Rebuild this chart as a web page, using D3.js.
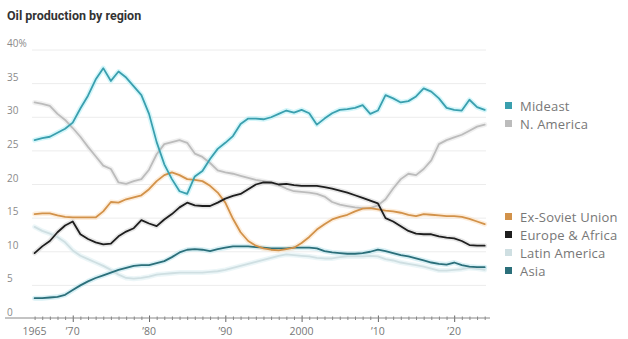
<!DOCTYPE html>
<html>
<head>
<style>
  body { margin: 0; background: #fff; }
  svg { display: block; font-family: 'Open Sans', sans-serif; }
</style>
</head>
<body>
<svg id="chart" width="628" height="339"></svg>
<script src="https://d3js.org/d3.v7.min.js"></script>
<script>
// share of world oil production, %, 1965-2024
var years = d3.range(1965, 2025);

var mideast = [26.6, 26.9, 27.1, 27.7, 28.3, 29.2, 31.3, 33.2, 35.6, 37.3,
  35.4, 36.8, 35.9, 34.6, 33.3, 30.5, 26.3, 23.0, 20.8, 19.0,
  18.6, 21.2, 22.0, 23.8, 25.3, 26.2, 27.2, 29.0, 29.8, 29.8,
  29.7, 30.0, 30.5, 31.0, 30.7, 31.1, 30.6, 28.9, 29.8, 30.6,
  31.1, 31.2, 31.4, 31.8, 30.5, 31.0, 33.3, 32.8, 32.2, 32.4,
  33.1, 34.3, 33.8, 32.8, 31.4, 31.1, 31.0, 32.6, 31.5, 31.1];

var nAmerica = [32.2, 32.0, 31.7, 30.5, 29.6, 28.4, 27.1, 25.6, 24.2, 22.8,
  22.3, 20.3, 20.1, 20.5, 20.8, 22.2, 24.5, 26.0, 26.3, 26.6,
  26.2, 24.6, 24.1, 23.2, 22.1, 21.8, 21.6, 21.3, 21.0, 20.7,
  20.5, 20.2, 19.9, 19.4, 19.0, 18.9, 18.8, 18.6, 18.2, 17.4,
  17.0, 16.8, 16.6, 16.5, 16.5, 16.9, 17.8, 19.4, 20.8, 21.6,
  21.4, 22.3, 23.6, 26.0, 26.6, 27.0, 27.4, 28.0, 28.6, 28.9];

var exSoviet = [15.6, 15.7, 15.7, 15.4, 15.2, 15.1, 15.1, 15.1, 15.1, 16.0,
  17.4, 17.3, 17.8, 18.1, 18.4, 19.3, 20.5, 21.4, 21.8, 21.4,
  20.8, 20.7, 20.5, 19.8, 18.8, 17.3, 14.9, 12.9, 11.6, 10.9,
  10.5, 10.3, 10.2, 10.4, 10.6, 11.3, 12.2, 13.3, 14.1, 14.8,
  15.2, 15.5, 16.0, 16.4, 16.5, 16.3, 16.1, 16.0, 15.8, 15.5,
  15.3, 15.6, 15.5, 15.4, 15.3, 15.3, 15.2, 14.9, 14.5, 14.1];

var europeAfrica = [9.8, 10.8, 11.6, 12.9, 13.9, 14.5, 12.6, 11.9, 11.4, 11.1,
  11.2, 12.3, 13.0, 13.5, 14.7, 14.2, 13.8, 14.8, 15.6, 16.6,
  17.3, 16.9, 16.8, 16.8, 17.3, 17.9, 18.3, 18.6, 19.3, 20.0,
  20.3, 20.3, 20.0, 20.1, 19.9, 19.8, 19.8, 19.8, 19.6, 19.4,
  19.1, 18.8, 18.4, 18.0, 17.6, 17.2, 15.0, 14.5, 13.8, 13.1,
  12.7, 12.6, 12.6, 12.3, 12.1, 12.0, 11.6, 11.0, 10.9, 10.9];

var latinAmerica = [13.7, 13.1, 12.7, 12.2, 11.4, 10.2, 9.4, 8.9, 8.4, 7.9,
  7.3, 6.6, 6.1, 6.0, 6.1, 6.3, 6.6, 6.7, 6.8, 6.9,
  6.9, 6.9, 6.9, 7.0, 7.1, 7.3, 7.6, 7.9, 8.2, 8.5,
  8.8, 9.1, 9.4, 9.6, 9.5, 9.4, 9.3, 9.1, 9.0, 9.0,
  9.2, 9.3, 9.3, 9.3, 9.4, 9.3, 8.9, 8.7, 8.4, 8.2,
  8.0, 7.8, 7.5, 7.2, 7.2, 7.3, 7.4, 7.6, 7.5, 7.3];

var asia = [3.1, 3.1, 3.2, 3.3, 3.6, 4.3, 5.0, 5.6, 6.1, 6.5,
  6.9, 7.3, 7.6, 7.9, 8.0, 8.0, 8.3, 8.6, 9.2, 9.9,
  10.3, 10.4, 10.3, 10.1, 10.4, 10.6, 10.8, 10.8, 10.8, 10.7,
  10.6, 10.5, 10.5, 10.5, 10.6, 10.6, 10.6, 10.5, 10.1, 9.9,
  9.8, 9.7, 9.7, 9.8, 10.0, 10.3, 10.1, 9.8, 9.5, 9.3,
  9.0, 8.7, 8.4, 8.2, 8.1, 8.4, 8.0, 7.8, 7.7, 7.7];

var yTicks = [0, 5, 10, 15, 20, 25, 30, 35, 40];
var xTicks = [1965, 1970, 1980, 1990, 2000, 2010, 2020];
var xTickLabels = ['1965', '\u201970', '\u201980', '\u201990', '2000', '\u201910', '\u201920'];

// drawing order (back to front)
var series = [
  {name: 'Latin America', values: latinAmerica, color: '#cfdfe2', halo: '#dff0f3'},
  {name: 'N. America', values: nAmerica, color: '#bcbcbc', halo: '#e6e6e6'},
  {name: 'Asia', values: asia, color: '#2b6f7a', halo: '#bfe6ee'},
  {name: 'Ex-Soviet Union', values: exSoviet, color: '#d2924a', halo: '#fbe3c6'},
  {name: 'Europe & Africa', values: europeAfrica, color: '#1e1e1e', halo: '#d6d6d6'},
  {name: 'Mideast', values: mideast, color: '#3a9fae', halo: '#b8f0f7'}
];
var legendTop = ['Mideast', 'N. America'];
var legendBottom = ['Ex-Soviet Union', 'Europe & Africa', 'Latin America', 'Asia'];

var svg = d3.select('#chart');
var x = d3.scaleLinear().domain([1965, 2024]).range([34.6, 484.7]);
var y = d3.scaleLinear().domain([0, 40]).range([319, 50]);

// gridlines + y labels
svg.append('g').selectAll('line')
  .data(yTicks.filter(function(d) { return d > 0; }))
  .enter().append('line')
  .attr('x1', 32).attr('x2', 486)
  .attr('y1', function(d) { return y(d); })
  .attr('y2', function(d) { return y(d); })
  .attr('stroke', '#ececec').attr('stroke-width', 1);

svg.append('g').selectAll('text')
  .data(yTicks)
  .enter().append('text')
  .attr('x', 7)
  .attr('y', function(d) { return y(d) - 3; })
  .attr('font-size', 10)
  .attr('fill', '#8a8a8a')
  .text(function(d) { return d === 40 ? '40%' : d; });

// x axis
var xAxis = d3.axisBottom(x)
  .tickValues(d3.range(1965, 2025))
  .tickSize(3)
  .tickFormat('');
var axisG = svg.append('g')
  .attr('transform', 'translate(0,' + 318 + ')')
  .call(xAxis);
axisG.select('.domain').remove();
axisG.selectAll('.tick line').attr('stroke', '#888').attr('y1', -1.5).attr('y2', 2);
axisG.selectAll('.tick').filter(function(d) { return d % 10 === 0; })
  .select('line').attr('y1', -2.5).attr('y2', 4).attr('stroke', '#666');
axisG.append('line')
  .attr('x1', 5).attr('x2', 490)
  .attr('stroke', '#888').attr('stroke-width', 1);

svg.append('g').selectAll('text')
  .data(xTicks)
  .enter().append('text')
  .attr('x', function(d) { return x(d); })
  .attr('y', 335)
  .attr('text-anchor', 'middle')
  .attr('font-size', 10.5)
  .attr('fill', '#777')
  .text(function(d, i) { return xTickLabels[i]; });

// lines
var line = d3.line()
  .x(function(d, i) { return x(years[i]); })
  .y(function(d) { return y(d); });

var lines = svg.append('g').attr('fill', 'none')
  .attr('stroke-linejoin', 'round').attr('stroke-linecap', 'round');
series.forEach(function(s) {
  lines.append('path')
    .attr('d', line(s.values))
    .attr('stroke', s.halo).attr('stroke-width', 5).attr('opacity', 0.6);
});
series.forEach(function(s) {
  lines.append('path')
    .attr('d', line(s.values))
    .attr('stroke', s.color).attr('stroke-width', 1.8);
});

// title
svg.append('text')
  .attr('x', 7).attr('y', 20)
  .attr('font-family', 'Roboto, sans-serif')
  .attr('font-weight', 'bold')
  .attr('font-size', 12.5)
  .attr('fill', '#333')
  .text('Oil production by region');

// legend
function drawLegend(names, top) {
  var g = svg.append('g').attr('transform', 'translate(505,' + top + ')');
  names.forEach(function(n, i) {
    var s = series.find(function(d) { return d.name === n; });
    g.append('rect')
      .attr('x', 0).attr('y', i * 18 - 4)
      .attr('width', 7).attr('height', 7)
      .attr('fill', s.color);
    g.append('text')
      .attr('x', 15).attr('y', i * 18 + 4.5)
      .attr('font-size', 13)
      .attr('letter-spacing', 0.2)
      .attr('fill', '#777')
      .text(n);
  });
}
drawLegend(legendTop, 106);
drawLegend(legendBottom, 217);
</script>
</body>
</html>
